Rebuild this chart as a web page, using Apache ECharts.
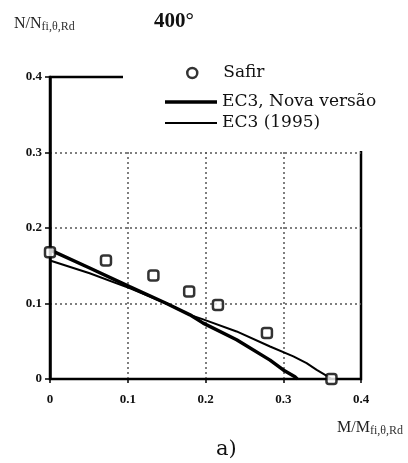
<!DOCTYPE html>
<html>
<head>
<meta charset="utf-8">
<script src="https://cdn.jsdelivr.net/npm/echarts@6/dist/echarts.min.js"></script>
<style>
html,body{margin:0;padding:0;background:#fff;}
#c{width:408px;height:463px;}
</style>
</head>
<body>
<div id="c"></div>
<script>
// Safir (numerical) points
var safirM = [0, 0.072, 0.133, 0.179, 0.216, 0.279, 0.362];
var safirN = [0.168, 0.157, 0.137, 0.116, 0.098, 0.061, 0];
// EC3, Nova versão (thick line)
var novaM = [0, 0.051, 0.103, 0.150, 0.180, 0.197, 0.240, 0.283, 0.300, 0.315, 0.318];
var novaN = [0.171, 0.147, 0.122, 0.100, 0.085, 0.074, 0.052, 0.025, 0.012, 0.003, 0];
// EC3 (1995) (thin line)
var ec95M = [0, 0.051, 0.103, 0.150, 0.180, 0.197, 0.240, 0.283, 0.313, 0.330, 0.343, 0.356, 0.362];
var ec95N = [0.157, 0.140, 0.120, 0.100, 0.085, 0.079, 0.063, 0.043, 0.030, 0.021, 0.012, 0.004, 0];
var xTicks = [0, 0.1, 0.2, 0.3, 0.4];
var yTicks = [0, 0.1, 0.2, 0.3, 0.4];

function pairs(a, b) { return a.map(function (v, i) { return [v, b[i]]; }); }

var serif = 'DejaVu Serif';
var chart = echarts.init(document.getElementById('c'), null, { renderer: 'canvas' });
chart.setOption({
  backgroundColor: '#fff',
  animation: false,
  title: [
    { text: 'N/N{s|fi,θ,Rd}', left: 9, top: 9,
      textStyle: { fontFamily: 'Liberation Serif', fontSize: 16, fontWeight: 'normal', color: '#222',
        rich: { s: { fontFamily: 'Liberation Serif', fontSize: 12, color: '#333', padding: [7, 0, 0, 0] } } } },
    { text: '400°', left: 149, top: 6,
      textStyle: { fontFamily: 'Liberation Serif', fontSize: 21, fontWeight: 'bold', color: '#111' } },
    { text: 'M/M{s|fi,θ,Rd}', left: 332, top: 413,
      textStyle: { fontFamily: 'Liberation Serif', fontSize: 16, fontWeight: 'normal', color: '#222',
        rich: { s: { fontFamily: 'Liberation Serif', fontSize: 12, color: '#333', padding: [7, 0, 0, 0] } } } },
    { text: 'a)', left: 211, top: 434,
      textStyle: { fontFamily: serif, fontSize: 21, fontWeight: 'normal', color: '#111' } }
  ],
  grid: { left: 50, right: 47, top: 77, bottom: 84, show: true, borderColor: '#000', borderWidth: 2.5, backgroundColor: 'transparent' },
  xAxis: {
    type: 'value', min: xTicks[0], max: xTicks[xTicks.length - 1], interval: 0.1,
    axisLine: { show: true, onZero: false, lineStyle: { color: '#000', width: 2 } },
    axisTick: { show: true, length: 4, lineStyle: { color: '#000', width: 1.5 } },
    axisLabel: { margin: 14, fontFamily: 'Liberation Serif', fontWeight: 'bold', fontSize: 13, color: '#111',
      formatter: function (v) { return String(Math.round(v * 10) / 10); } },
    splitLine: { show: true, showMinLine: false, showMaxLine: false, lineStyle: { color: '#555', width: 1.5, type: [2, 3] } }
  },
  yAxis: {
    type: 'value', min: yTicks[0], max: yTicks[yTicks.length - 1], interval: 0.1,
    axisLine: { show: true, onZero: false, lineStyle: { color: '#000', width: 2.5 } },
    axisTick: { show: true, length: 5, lineStyle: { color: '#000', width: 1.5 } },
    axisLabel: { margin: 8, fontFamily: 'Liberation Serif', fontWeight: 'bold', fontSize: 13, color: '#111',
      formatter: function (v) { return String(Math.round(v * 10) / 10); } },
    splitLine: { show: true, showMinLine: false, showMaxLine: false, lineStyle: { color: '#555', width: 1.5, type: [2, 3] } }
  },
  legend: [
    { data: [{ name: 'Safir', icon: 'circle', itemStyle: { color: '#fff', borderColor: '#000', borderWidth: 2.5 } }],
      left: 123, top: 58, orient: 'vertical', z: 4,
      padding: [5, 110, 68, 63], backgroundColor: '#fff',
      itemWidth: 10, itemHeight: 10, selectedMode: false,
      formatter: function (n) { return '{p| }' + n; },
      textStyle: { fontFamily: serif, fontSize: 17, color: '#111', lineHeight: 20,
        rich: { p: { width: 21, fontSize: 17, lineHeight: 20 } } } },
    { data: [{ name: 'EC3, Nova versão', icon: 'rect', itemStyle: { color: '#000', borderWidth: 0 } }],
      left: 165, top: 92, z: 6, padding: 0,
      itemWidth: 52, itemHeight: 3.5, selectedMode: false,
      textStyle: { fontFamily: serif, fontSize: 17, color: '#111', lineHeight: 20 } },
    { data: [{ name: 'EC3 (1995)', icon: 'rect', itemStyle: { color: '#000', borderWidth: 0 } }],
      left: 165, top: 113, z: 6, padding: 0,
      itemWidth: 52, itemHeight: 2, selectedMode: false,
      textStyle: { fontFamily: serif, fontSize: 17, color: '#111', lineHeight: 20 } }
  ],
  series: [
    { name: 'EC3, Nova versão', type: 'line', data: pairs(novaM, novaN), symbol: 'none', showSymbol: false,
      lineStyle: { color: '#000', width: 3.5 }, itemStyle: { color: '#000' }, z: 3 },
    { name: 'EC3 (1995)', type: 'line', data: pairs(ec95M, ec95N), symbol: 'none', showSymbol: false,
      lineStyle: { color: '#000', width: 2 }, itemStyle: { color: '#000' }, z: 3 },
    { name: 'Safir', type: 'scatter', data: pairs(safirM, safirN), symbol: 'roundRect', symbolSize: 10,
      itemStyle: { color: '#fff', borderColor: '#000', borderWidth: 2.5 }, z: 5 }
  ]
});
</script>
</body>
</html>
